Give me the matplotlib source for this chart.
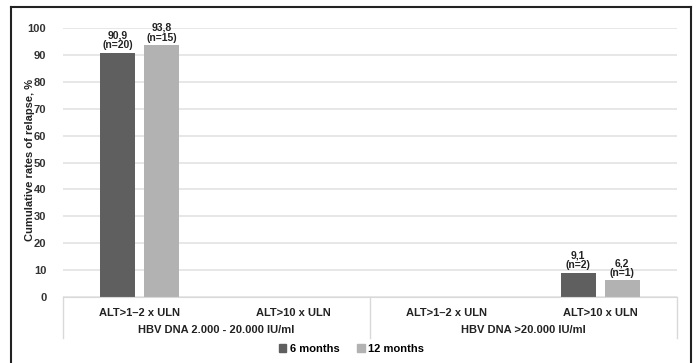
import matplotlib.pyplot as plt
from matplotlib.lines import Line2D
import numpy as np

plt.rcParams["font.family"] = ["Liberation Sans", "DejaVu Sans"]

categories = ["ALT>1\u20132 x ULN", "ALT>10 x ULN", "ALT>1\u20132 x ULN", "ALT>10 x ULN"]
groups = ["HBV DNA 2.000 - 20.000 IU/ml", "HBV DNA >20.000 IU/ml"]
series_names = ["6 months", "12 months"]
six_months = [90.9, 0, 0, 9.1]
twelve_months = [93.8, 0, 0, 6.2]
six_labels = ["90,9\n(n=20)", "", "", "9,1\n(n=2)"]
twelve_labels = ["93,8\n(n=15)", "", "", "6,2\n(n=1)"]
yticks = [0, 10, 20, 30, 40, 50, 60, 70, 80, 90, 100]

dark = "#5f5f5f"
light = "#b2b2b2"

fig = plt.figure(figsize=(6.96, 3.63), dpi=100)
ax = fig.add_axes([0.0905, 0.1818, 0.882, 0.741])

x = np.arange(len(categories))
w = 0.228
off = 0.143
b1 = ax.bar(x - off, six_months, w, color=dark, zorder=3)
b2 = ax.bar(x + off, twelve_months, w, color=light, zorder=3)

for bars, labels in [(b1, six_labels), (b2, twelve_labels)]:
    for bar, lab in zip(bars, labels):
        if lab:
            ax.text(bar.get_x() + bar.get_width() / 2, bar.get_height() + 0.8, lab,
                    ha="center", va="bottom", fontsize=7.5, fontweight="bold",
                    color="#222222", linespacing=1.0)

ax.set_xlim(-0.5, len(categories) - 0.5)
ax.set_ylim(0, 100)
ax.set_yticks(yticks)
ax.set_yticklabels([str(t) for t in yticks], fontsize=8, fontweight="bold", color="#333333")
ax.set_xticks(x)
ax.set_xticklabels(categories, fontsize=8, fontweight="bold", color="#222222")
ax.tick_params(axis="both", length=0)
ax.tick_params(axis="x", pad=8)
ax.tick_params(axis="y", pad=12)
ax.yaxis.grid(True, color="#e3e3e3", linewidth=1.2, zorder=0)
for s in ["top", "right", "left"]:
    ax.spines[s].set_visible(False)
ax.spines["bottom"].set_color("#d9d9d9")
ax.spines["bottom"].set_zorder(4)

fig.text(30 / 696, 0.56, "Cumulative rates of relapse, %", rotation=90, ha="center",
         va="center", fontsize=8, fontweight="bold", color="#222222")

# group separators and labels below the axis
trans = ax.get_xaxis_transform()
for xs in [-0.5, 1.5, 3.5]:
    ax.add_line(Line2D([xs, xs], [0, -0.152], transform=trans, color="#d9d9d9",
                       linewidth=1, clip_on=False))
for i, g in enumerate(groups):
    ax.text(0.5 + 2 * i, -0.123, g, transform=trans, ha="center", va="center",
            fontsize=8, fontweight="bold", color="#222222")

handles = [plt.Rectangle((0, 0), 1, 1, color=dark), plt.Rectangle((0, 0), 1, 1, color=light)]
leg = fig.legend(handles, series_names, loc="center", bbox_to_anchor=(0.505, 0.038),
                 ncol=2, frameon=False, handlelength=0.7, handleheight=0.7,
                 handletextpad=0.3, columnspacing=1.6, prop={"size": 8, "weight": "bold"})

# outer frame
fx0, fx1, fy1 = 11 / 696, 691 / 696, 1 - 7 / 363
for xs, ys in [([fx0, fx0], [-0.05, fy1]), ([fx0, fx1], [fy1, fy1]), ([fx1, fx1], [fy1, -0.05])]:
    fig.add_artist(Line2D(xs, ys, transform=fig.transFigure, color="#222222", linewidth=1.5))

fig.savefig("out.png", dpi=100)
plt.close(fig)
